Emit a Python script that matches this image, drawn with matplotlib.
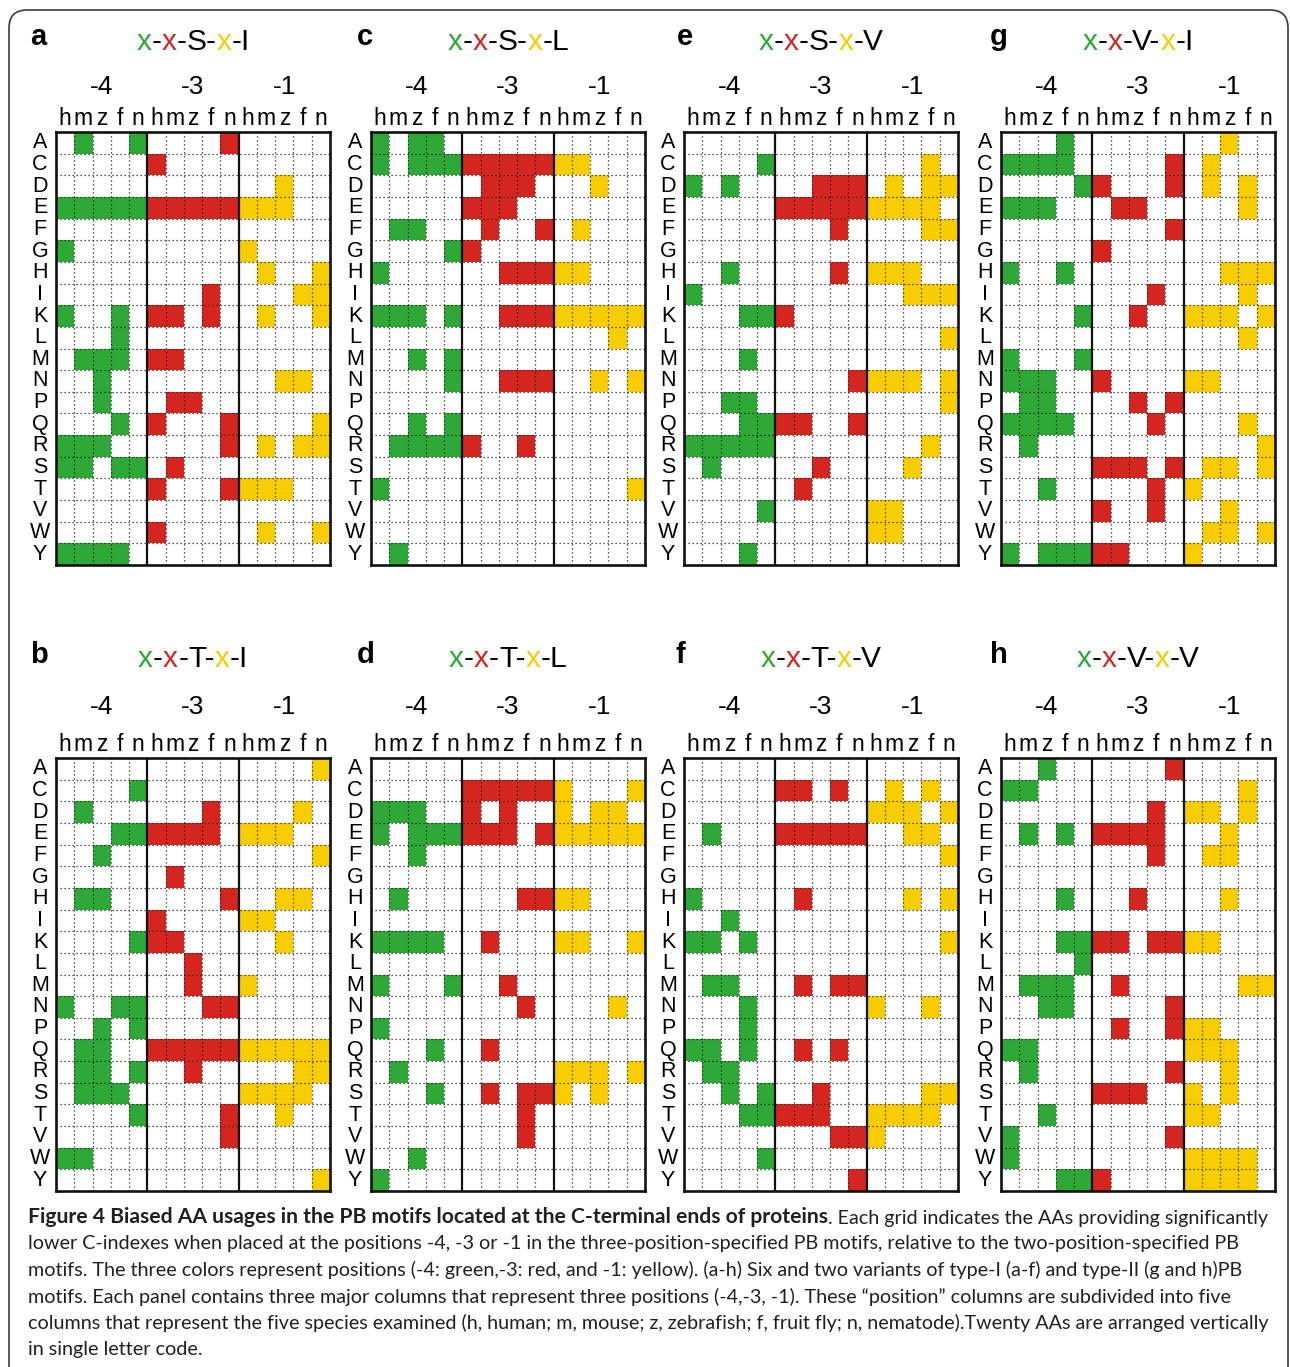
import numpy as np
import matplotlib
matplotlib.use('Agg')
import matplotlib.pyplot as plt
from matplotlib.colors import ListedColormap
from matplotlib.patches import FancyBboxPatch
from matplotlib.offsetbox import TextArea, HPacker, AnnotationBbox

# amino acids (rows) and species (sub-columns) of every grid
amino = ['A', 'C', 'D', 'E', 'F', 'G', 'H', 'I', 'K', 'L',
         'M', 'N', 'P', 'Q', 'R', 'S', 'T', 'V', 'W', 'Y']
species = ['h', 'm', 'z', 'f', 'n']
positions = ['-4', '-3', '-1']

# one string per amino acid: positions -4 | -3 | -1, each "h m z f n"
panel_a = ["-1--1 ----1 -----", "----- 1---- -----", "----- ----- --1--", "11111 11111 111--",
           "----- ----- -----", "1---- ----- 1----", "----- ----- -1--1", "----- ---1- ---11",
           "1--1- 11-1- -1--1", "---1- ----- -----", "-111- 11--- -----", "--1-- ----- --11-",
           "--1-- -11-- -----", "---1- 1---1 ----1", "111-- ----1 -1-11", "11-11 -1--- -----",
           "----- 1---1 111--", "----- ----- -----", "----- 1---- -1--1", "1111- ----- -----"]
panel_c = ["1-11- ----- -----", "1-111 11111 11---", "----- -111- --1--", "----- 111-- -----",
           "-11-- -1--1 -1---", "----1 1---- -----", "1---- --111 11---", "----- ----- -----",
           "111-1 --111 11111", "----- ----- ---1-", "--1-1 ----- -----", "----1 --111 --1-1",
           "----- ----- -----", "--1-1 ----- -----", "-1111 1--1- -----", "----- ----- -----",
           "1---- ----- ----1", "----- ----- -----", "----- ----- -----", "-1--- ----- -----"]
panel_e = ["----- ----- -----", "----1 ----- ---1-", "1-1-- --111 -1-11", "----- 11111 1111-",
           "----- ---1- ---11", "----- ----- -----", "--1-- ---1- 111--", "1---- ----- --111",
           "---11 1---- -----", "----- ----- ----1", "---1- ----- -----", "----- ----1 111-1",
           "--11- ----- ----1", "---11 11--1 -----", "11111 ----- ---1-", "-1--- --1-- --1--",
           "----- -1--- -----", "----1 ----- 11---", "----- ----- 11---", "---1- ----- -----"]
panel_g = ["---1- ----- --1--", "1111- ----1 -1---", "----1 1---1 -1-1-", "111-- -11-- ---1-",
           "----- ----1 -----", "----- 1---- -----", "1--1- ----- --111", "----- ---1- ---1-",
           "----1 --1-- 111-1", "----- ----- ---1-", "1---1 ----- -----", "111-- 1---- 11---",
           "-11-- --1-1 -----", "1111- ---1- ---1-", "-1--- ----- ----1", "----- 111-1 -11-1",
           "--1-- ---1- 1----", "----- 1--1- --1--", "----- ----- -11-1", "1-111 11--- 1----"]
panel_b = ["----- ----- ----1", "----1 ----- -----", "-1--- ---1- ---1-", "---11 1111- 111--",
           "--1-- ----- ----1", "----- -1--- -----", "-11-- ----1 --11-", "----- 1---- 11---",
           "----1 11--- --1--", "----- --1-- -----", "----- --1-- 1----", "1--11 ---11 -----",
           "--1-1 ----- -----", "-11-- 11111 11111", "-11-1 --1-- ---11", "-111- ----- 1111-",
           "----1 ----1 --1--", "----- ----1 -----", "11--- ----- -----", "----- ----- ----1"]
panel_d = ["----- ----- -----", "----- 11111 1---1", "111-- 1-1-- 1-11-", "1-111 111-1 11111",
           "--1-- ----- -----", "----- ----- -----", "-1--- ---11 11---", "----- ----- -----",
           "1111- -1--- 11--1", "----- ----- -----", "1---1 --1-- -----", "----- ---1- ---1-",
           "1---- ----- -----", "---1- -1--- -----", "-1--- ----- 111-1", "---1- -1-11 1-1--",
           "----- ---1- -----", "----- ---1- -----", "--1-- ----- -----", "1---- ----- -----"]
panel_f = ["----- ----- -----", "----- 11-1- -1-1-", "----- ----- 111-1", "-1--- 11111 --11-",
           "----- ----- ----1", "----- ----- -----", "1---- -1--- --1-1", "--1-- ----- -----",
           "11-1- ----- ----1", "----- ----- -----", "-11-- -1-11 -----", "---1- ----- 1--1-",
           "---1- ----- -----", "11-1- -1-1- -----", "-11-- ----- -----", "--1-1 --1-- ---11",
           "---11 111-- 1111-", "----- ---11 1----", "----1 ----- -----", "----- ----1 -----"]
panel_h = ["--1-- ----1 -----", "11--- ----- ---1-", "----- ---1- 11-1-", "-1-1- 1111- --1--",
           "----- ---1- -11--", "----- ----- -----", "---1- --1-- --1--", "----- ----- -----",
           "---11 11-11 11---", "----1 ----- -----", "-111- -1--- ---11", "--11- ----1 -----",
           "----- -1--1 11---", "11--- ----- 111--", "-1--- ----1 --1--", "----- 111-- 1-1--",
           "--1-- ----- 11---", "1---- ----1 -----", "1---- ----- 1111-", "---11 1---- 1111-"]

letters_top = ['a', 'c', 'e', 'g']
letters_bottom = ['b', 'd', 'f', 'h']
motifs_top = ['S-x-I', 'S-x-L', 'S-x-V', 'V-x-I']
motifs_bottom = ['T-x-I', 'T-x-L', 'T-x-V', 'V-x-V']

caption_bold = "Figure 4 Biased AA usages in the PB motifs located at the C-terminal ends of proteins"
caption_lines = [
    ". Each grid indicates the AAs providing significantly",
    "lower C-indexes when placed at the positions -4, -3 or -1 in the three-position-specified PB motifs, relative to the two-position-specified PB",
    "motifs. The three colors represent positions (-4: green,-3: red, and -1: yellow). (a-h) Six and two variants of type-I (a-f) and type-II (g and h)PB",
    "motifs. Each panel contains three major columns that represent three positions (-4,-3, -1). These \u201cposition\u201d columns are subdivided into five",
    "columns that represent the five species examined (h, human; m, mouse; z, zebrafish; f, fruit fly; n, nematode).Twenty AAs are arranged vertically",
    "in single letter code.",
]

green, red, yellow = '#2ea836', '#d4261f', '#f7cd00'
cmap = ListedColormap(['white', green, red, yellow])
FONT = ['Liberation Sans', 'DejaVu Sans']

W, H = 1290, 1367
fig = plt.figure(figsize=(W / 100, H / 100), dpi=100)
bg = fig.add_axes([0, 0, 1, 1], zorder=-1)
bg.set_xlim(0, W)
bg.set_ylim(H, 0)
bg.axis('off')

# rounded frame round the whole figure
bg.add_patch(FancyBboxPatch((9, 10), 1279, 1420, boxstyle='round,pad=0,rounding_size=18',
                            fc='none', ec='#3a3a3a', lw=1.2))

gw, gh = 274, 433


def draw_panel(rows, left, top, letter, motif, letter_x, hdr):
    grid = np.zeros((20, 15))
    for i, row in enumerate(rows):
        for j, c in enumerate(row.replace(' ', '')):
            if c == '1':
                grid[i, j] = j // 5 + 1
    ax = fig.add_axes([left / W, 1 - (top + gh) / H, gw / W, gh / H])
    ax.pcolormesh(np.arange(16), np.arange(21), grid, cmap=cmap, vmin=-0.5, vmax=3.5)
    ax.set_xlim(0, 15)
    ax.set_ylim(20, 0)
    for x in range(1, 15):
        if x % 5:
            ax.axvline(x, color='#222222', lw=0.9, ls=(0, (1, 2.2)))
    for y in range(1, 20):
        ax.axhline(y, color='#222222', lw=0.9, ls=(0, (1, 2.2)))
    ax.axvline(5, color='#111111', lw=1.6)
    ax.axvline(10, color='#111111', lw=1.6)
    for s in ax.spines.values():
        s.set_linewidth(1.9)
        s.set_color('#111111')
    ax.set_xticks([])
    ax.set_yticks([])

    # row labels
    for i, aa in enumerate(amino):
        bg.text(left - 16, top + (i + 0.5) * gh / 20, aa, ha='center', va='center',
                fontsize=15.5, family=FONT)
    # species labels and position labels
    for j in range(15):
        bg.text(left + (j + 0.5) * gw / 15, hdr[3], species[j % 5], ha='center',
                va='baseline', fontsize=16.5, family=FONT)
    for k, p in enumerate(positions):
        bg.text(left + (k + 0.5) * gw / 3, hdr[2], p, ha='center', va='center',
                fontsize=19, family=FONT)
    # panel letter
    bg.text(letter_x, hdr[0], letter, ha='left', va='baseline', fontsize=21,
            fontweight='bold', family=FONT)
    # coloured motif title
    parts = [('x', green), ('-', 'black'), ('x', red), ('-', 'black'),
             (motif[:2], 'black'), ('x', yellow), (motif[3:], 'black')]
    boxes = [TextArea(s, textprops=dict(color=c, fontsize=21.5, family=FONT)) for s, c in parts]
    pack = HPacker(children=boxes, align='baseline', pad=0, sep=0)
    bg.add_artist(AnnotationBbox(pack, (left + gw / 2, hdr[1]), xycoords='data',
                                 box_alignment=(0.5, 0.5), frameon=False, pad=0))


lefts = [56, 371, 684, 1001]
letter_x_top = [30, 357, 677, 990]
letter_x_bottom = [30, 357, 676, 990]
hdr_top = (45, 42, 87, 125)
hdr_bottom = (663, 659, 707, 751)

for rows, left, letter, motif, lx in zip([panel_a, panel_c, panel_e, panel_g], lefts,
                                         letters_top, motifs_top, letter_x_top):
    draw_panel(rows, left, 132, letter, motif, lx, hdr_top)
for rows, left, letter, motif, lx in zip([panel_b, panel_d, panel_f, panel_h], lefts,
                                         letters_bottom, motifs_bottom, letter_x_bottom):
    draw_panel(rows, left, 758, letter, motif, lx, hdr_bottom)

# caption
CAP = 'Lato'
t1 = bg.text(28, 1223, caption_bold, fontsize=15.2, fontweight='bold', family=CAP,
             color='#231f20', va='baseline')
bg.annotate(caption_lines[0], xy=(1, 0), xycoords=t1, va='bottom', ha='left',
            fontsize=14.2, family=CAP, color='#231f20')
for k, line in enumerate(caption_lines[1:]):
    bg.text(28, 1223 + (k + 1) * 26.5, line, fontsize=14.2, family=CAP,
            color='#231f20', va='baseline')

fig.savefig('out.png', dpi=100)
